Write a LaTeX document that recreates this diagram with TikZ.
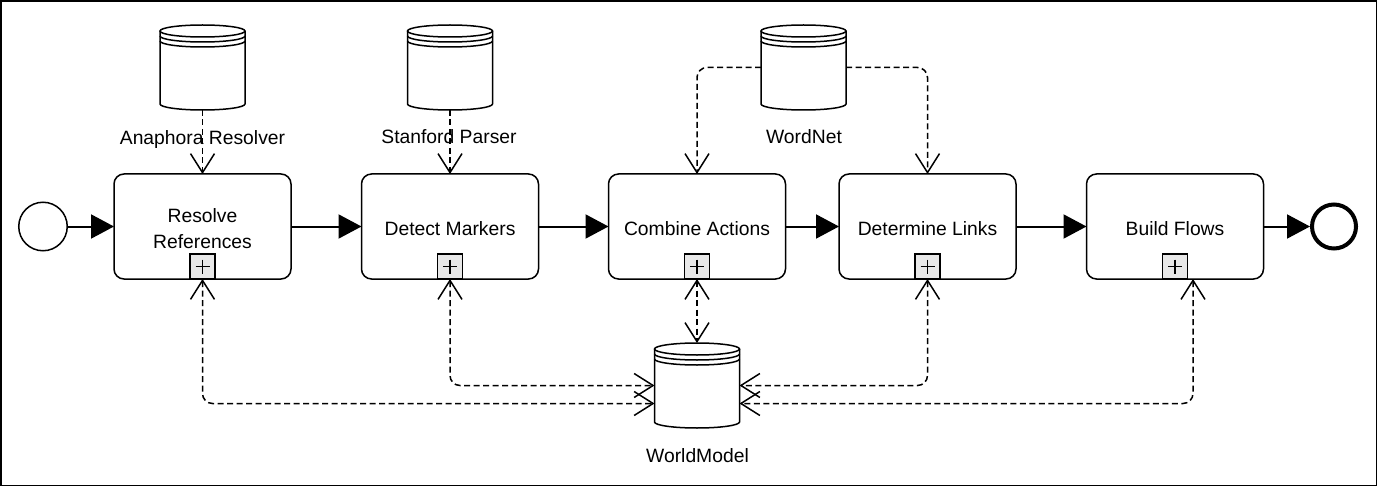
\documentclass[tikz,border=0pt]{standalone}
\usepackage{fontspec}
\setmainfont{Liberation Sans}
\usepackage{tikz}
\usetikzlibrary{arrows.meta,positioning}
\definecolor{markergray}{RGB}{232,232,232}
\tikzset{
  task/.style={draw, line width=1.5pt, rounded corners=10pt, minimum width=177pt, minimum height=105pt, align=center, outer sep=0pt, text height=19pt, font=\fontsize{19.3}{26}\selectfont},
  submarker/.style={draw, fill=markergray, line width=1.8pt, minimum size=25pt, inner sep=0pt, outer sep=0pt},
  drum/.style={minimum width=85pt, minimum height=85pt, inner sep=0pt, outer sep=0pt},
  drumline/.style={line width=1.5pt},
  caption/.style={anchor=base, inner sep=0pt, font=\fontsize{19.3}{26}\selectfont},
  flow/.style={line width=2pt, -{Triangle[length=23pt,width=24pt]}},
  assoc/.style={line width=1.5pt, dash pattern=on 6pt off 3.5pt, rounded corners=10pt},
  assocto/.style={assoc, -{Straight Barb[length=19pt,width=24pt]}},
  assocboth/.style={assoc, {Straight Barb[length=19pt,width=24pt]}-{Straight Barb[length=19pt,width=24pt]}}
}
\newcommand{\drumshape}[1]{%
  \draw[drumline] ([yshift=-6pt]#1.north) ellipse[x radius=42.5pt, y radius=6pt];
  \draw[drumline] ([yshift=-6pt]#1.north west) -- ([yshift=6pt]#1.south west)
    arc[start angle=180, end angle=360, x radius=42.5pt, y radius=6pt]
    -- ([yshift=-6pt]#1.north east);
  \draw[drumline] ([yshift=-11pt]#1.north west) arc[start angle=180, end angle=360, x radius=42.5pt, y radius=6pt];
  \draw[drumline] ([yshift=-16pt]#1.north west) arc[start angle=180, end angle=360, x radius=42.5pt, y radius=6pt];
}

\begin{document}
\begin{tikzpicture}[x=1pt, y=-1pt]
    \useasboundingbox (0,0) rectangle (1378,489);
    \draw[line width=1.5pt] (1,1) rectangle (1376.5,485.5);

    \node[circle, draw, line width=1.5pt, minimum size=48.5pt, inner sep=0pt] (start) at (43,226.5) {};
    \node[circle, draw, line width=4pt, minimum size=44pt, inner sep=0pt, outer sep=2pt] (finish) at (1334,226.5) {};

    \node[task, text height=45pt] (resolve) at (202.5,226.5) {Resolve\\References};
    \node[task] (detect) at (450,226.5) {Detect Markers};
    \node[task] (combine) at (697,226.5) {Combine Actions};
    \node[task] (determine) at (927.5,226.5) {Determine Links};
    \node[task] (build) at (1175,226.5) {Build Flows};

    \foreach \t in {resolve,detect,combine,determine,build} {
        \node[submarker, above=0pt of \t.south] (\t-plus) {};
        \draw[line width=1.8pt] (\t-plus.center) +(-7,0) -- +(7,0) +(0,-7) -- +(0,7);
    }

    \node[drum] (anaphora) at (202.5,67.5) {};
    \node[drum] (stanford) at (450,67.5) {};
    \node[drum] (wordnet) at (803.5,67.5) {};
    \node[drum] (worldmodel) at (697,385.5) {};
    \foreach \d in {anaphora,stanford,wordnet,worldmodel} {
        \drumshape{\d}
    }

    \node[caption] (anaphora-label) at (202.5,145) {Anaphora Resolver};
    \node[caption] (stanford-label) at (449,144) {Stanford Parser};
    \node[caption] (wordnet-label) at (804,144) {WordNet};
    \node[caption] (worldmodel-label) at (697.5,462) {WorldModel};

    \draw[flow] (start.east) -- (resolve.west);
    \draw[flow] (resolve.east) -- (detect.west);
    \draw[flow] (detect.east) -- (combine.west);
    \draw[flow] (combine.east) -- (determine.west);
    \draw[flow] (determine.east) -- (build.west);
    \draw[flow] (build.east) -- (finish.west);

    \draw[assocto] (anaphora.south) -- (resolve.north);
    \draw[assocto] (stanford.south) -- (detect.north);
    \draw[assocto] (wordnet.west) -| (combine.north);
    \draw[assocto] (wordnet.east) -| (determine.north);

    \draw[assocboth] (resolve.south) |- ([yshift=-18pt]worldmodel.west);
    \draw[assocboth] (detect.south) |- (worldmodel.west);
    \draw[assocboth] (combine.south) -- (worldmodel.north);
    \draw[assocboth] (determine.south) |- (worldmodel.east);
    \draw[assocboth] ([xshift=18pt]build.south) |- ([yshift=-18pt]worldmodel.east);
\end{tikzpicture}
\end{document}
